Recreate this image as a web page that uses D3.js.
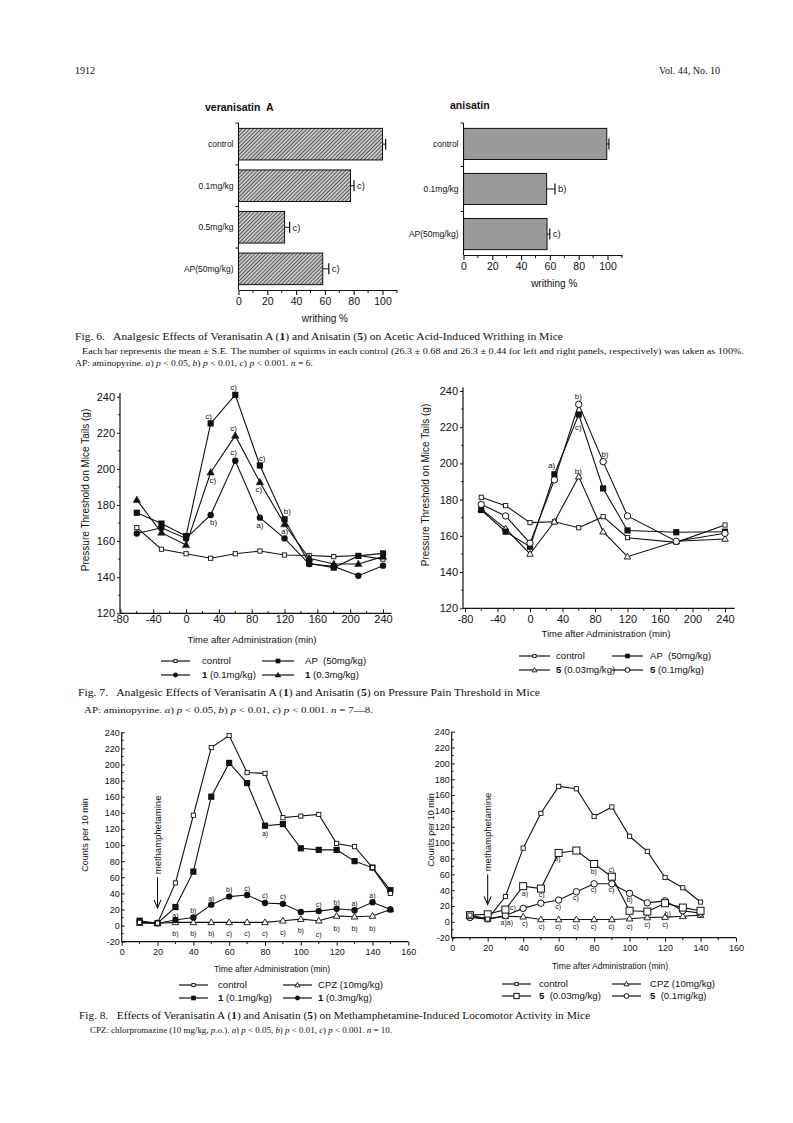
<!DOCTYPE html>
<html><head><meta charset="utf-8">
<script src="https://cdn.jsdelivr.net/npm/d3@7"></script>
<style>body{margin:0;background:#fff} svg{display:block} text{white-space:pre}</style>
</head><body><svg id="page" width="793" height="1123"></svg>
<script>
// ================= DATA =================
const fig6LeftCategories = ["control", "0.1mg/kg", "0.5mg/kg", "AP(50mg/kg)"];
const fig6LeftValues = [100, 77.8, 32, 58.5];
const fig6LeftErrors = [2.2, 2.4, 3.5, 4.2];
const fig6LeftSig = ["", "c)", "c)", "c)"];
const fig6RightCategories = ["control", "0.1mg/kg", "AP(50mg/kg)"];
const fig6RightValues = [99.5, 57.7, 58];
const fig6RightErrors = [1.5, 5.8, 1.9];
const fig6RightSig = ["", "b)", "c)"];
const writhingTicks = [0, 20, 40, 60, 80, 100];

const fig7TimeLeft = [-60, -30, 0, 30, 60, 90, 120, 150, 180, 210, 240];
const fig7LeftControl = [167.5, 155.5, 153, 150.5, 153, 154.5, 152.3, 152, 151.4, 152, 150];
const fig7LeftAP = [175.7, 169.7, 162.8, 225.2, 241, 201.9, 172.1, 147.7, 145.3, 151.8, 153.2];
const fig7Left1Low = [164.2, 167.4, 161.5, 174.5, 204.5, 173, 161.5, 147.3, 146, 140.8, 146.4];
const fig7Left1High = [182.8, 164.7, 157.8, 198, 218.4, 192.6, 169.3, 150.5, 147.3, 147.3, 151.4];
const fig7TimeRight = [-60, -30, 0, 30, 60, 90, 120, 180, 240];
const fig7RightControl = [181.3, 176.7, 167.3, 167.8, 164.5, 170.6, 159, 156.4, 166];
const fig7RightAP = [174.3, 162.3, 154, 194, 227, 186.2, 163, 162, 162.3];
const fig7Right5Low = [174.8, 164, 150, 167.8, 192.7, 162.3, 148.5, 157, 158.3];
const fig7Right5High = [177.4, 171, 156, 190.9, 232.6, 201, 171, 157, 161.4];
const fig7TimeTicks = [-80, -40, 0, 40, 80, 120, 160, 200, 240];
const fig7ThresholdTicks = [120, 140, 160, 180, 200, 220, 240];
const fig7LeftSig = [[58, 245.4, "c)"], [27.4, 229.2, "c)"], [58, 222.4, "c)"], [58, 209, "c)"], [32.7, 194, "c)"],
  [33.5, 170.7, "b)"], [92.8, 206.2, "c)"], [88.7, 189, "c)"], [90, 168.8, "a)"], [123.5, 176.3, "b)"], [120, 165.6, "a)"]];
const fig7RightSig = [[59.5, 236.9, "b)"], [59.5, 219.8, "c)"], [26.7, 199.1, "a)"], [59.5, 195.8, "b)"], [92.3, 205, "b)"]];

const fig8TimeLeft = [10, 20, 30, 40, 50, 60, 70, 80, 90, 100, 110, 120, 130, 140, 150];
const fig8LeftControl = [4, 3, 53, 137, 221, 236, 190, 189, 134, 136, 138, 102, 98, 72, 40];
const fig8Left1Low = [6, 3, 23, 67, 160, 202, 177, 124, 126, 96, 94, 94, 80, 72, 44];
const fig8Left1High = [5, 3, 7, 10, 26, 36, 38, 28, 27, 17, 18, 21, 19, 29, 20];
const fig8LeftCPZ = [3, 3, 4, 4, 4, 4, 4, 4, 6, 8, 6, 12, 11, 12, 20];
const fig8TimeRight = [10, 20, 30, 40, 50, 60, 70, 80, 90, 100, 110, 120, 130, 140];
const fig8RightControl = [8.5, 3.5, 32, 93, 137, 171, 168, 133, 145, 108, 89, 56, 43, 25];
const fig8Right5Low = [8.5, 9.5, 15.5, 45, 42, 87, 90, 73, 57, 14, 13, 23.5, 18, 14];
const fig8Right5High = [5.5, 3.5, 8, 17, 23.5, 27.5, 38, 48, 48, 36, 24, 26.5, 14, 11];
const fig8RightCPZ = [7, 3.5, 7, 6.5, 3, 3, 3, 3, 3, 4, 5.5, 6, 7, 8.5];
const fig8TimeTicks = [0, 20, 40, 60, 80, 100, 120, 140, 160];
const fig8CountTicks = [-20, 0, 20, 40, 60, 80, 100, 120, 140, 160, 180, 200, 220, 240];
const fig8LeftSig = [[80, 114.7, "a)"],
  [30, 12.4, "a)"], [40, 18.2, "b)"], [50, 34, "a)"], [60, 44.7, "b)"], [70, 46.4, "c)"], [80, 37.3, "c)"], [90, 36, "c)"],
  [110, 25.7, "c)"], [120, 29, "b)"], [130, 27.7, "a)"], [140, 37.3, "a)"],
  [30, -10.4, "b)"], [40, -10.4, "b)"], [50, -10.4, "b)"], [60, -10.4, "c)"], [70, -10.4, "c)"], [80, -10.4, "c)"],
  [90, -8.3, "c)"], [100, -6.6, "b)"], [110, -11.6, "c)"], [120, -4.1, "b)"], [130, -4.1, "b)"], [140, -4.1, "b)"]];
const fig8RightSig = [[59.3, 80, "a)"], [79.8, 63.8, "b)"], [89.7, 66, "c)"], [34.2, 17.9, "c)"], [41, 36.2, "a)"],
  [50.5, 34, "c)"], [59.8, 19.1, "c)"], [69.7, 30.6, "c)"], [79.8, 40.4, "c)"], [89.7, 40.4, "c)"], [100, 27.7, "b)"],
  [121.5, 10.6, "b)"], [30.8, -1.5, "a)a)"], [41, -2.5, "c)"], [50.5, -6.4, "c)"], [59.8, -6.4, "c)"], [69.7, -6.4, "c)"],
  [79.8, -5.5, "c)"], [89.7, -5.5, "c)"], [100, -5.5, "c)"], [110, -3.8, "c)"], [120, -3.8, "c)"]];
const methamphetamineArrow = [20, 60, 22]; // time, arrow start value, arrow end value

// ================= DRAWING =================
const svg = d3.select('#page');
const SANS = "'Liberation Sans', Arial, Helvetica, sans-serif";
const SERIF = "'Liberation Serif', 'Times New Roman', serif";
const fmt = d => String(d);

const defs = svg.append('defs');
const hatch = defs.append('pattern').attr('id', 'hatch').attr('patternUnits', 'userSpaceOnUse')
  .attr('width', 2.7).attr('height', 2.7).attr('patternTransform', 'rotate(45)');
hatch.append('rect').attr('width', 2.7).attr('height', 2.7).attr('fill', '#c8c8c8');
hatch.append('line').attr('x1', 0).attr('y1', 0).attr('x2', 0).attr('y2', 2.7).attr('stroke', '#262626').attr('stroke-width', 1.3);

function rich(x, y, parts, size, family, width, anchor) {
  const t = svg.append('text').attr('x', x).attr('y', y).attr('font-family', family)
    .attr('font-size', size).attr('fill', '#111').attr('text-anchor', anchor || 'start');
  parts.forEach(p => {
    const s = t.append('tspan').text(p[0]);
    if (p[1] === 'b') s.attr('font-weight', 'bold');
    if (p[1] === 'i') s.attr('font-style', 'italic');
  });
  if (width) t.attr('textLength', width).attr('lengthAdjust', 'spacingAndGlyphs');
  return t;
}

// header
rich(75, 74, [["1912"]], 10, SERIF);
rich(720, 74, [["Vol. 44, No. 10"]], 10, SERIF, null, 'end');

// ---------- Fig 6 bar charts ----------
function barChart(cfg) {
  const g = svg.append('g');
  const x = d3.scaleLinear().domain([0, 110]).range([cfg.x0, cfg.x0 + 110 * 1.44]);
  const y = d3.scaleBand().domain(cfg.cats).range([cfg.yTop, cfg.yBot])
    .paddingInner(cfg.pi).paddingOuter(cfg.po);
  g.selectAll('rect.bar').data(cfg.cats).join('rect').attr('class', 'bar')
    .attr('x', x(0)).attr('y', d => y(d)).attr('height', y.bandwidth())
    .attr('width', (d, i) => x(cfg.vals[i]) - x(0))
    .attr('fill', cfg.fill).attr('stroke', '#111').attr('stroke-width', 1);
  cfg.cats.forEach((c, i) => {
    const cy = y(c) + y.bandwidth() / 2;
    const xe = x(cfg.vals[i] + cfg.errs[i]);
    g.append('line').attr('x1', x(cfg.vals[i])).attr('x2', xe).attr('y1', cy).attr('y2', cy).attr('stroke', '#111');
    g.append('line').attr('x1', xe).attr('x2', xe).attr('y1', cy - 5.5).attr('y2', cy + 5.5).attr('stroke', '#111').attr('stroke-width', 1.2);
    if (cfg.sig[i]) g.append('text').attr('x', xe + 3).attr('y', cy + 3.3).text(cfg.sig[i])
      .attr('font-family', SANS).attr('font-size', 9.5).attr('fill', '#111');
    g.append('text').attr('x', cfg.x0 - 5).attr('y', cy + 3).attr('text-anchor', 'end').text(c)
      .attr('font-family', SANS).attr('font-size', 8.5).attr('fill', '#111');
  });
  const ax = g.append('g').attr('transform', `translate(0,${cfg.yBot})`)
    .call(d3.axisBottom(x).tickValues(writhingTicks).tickSize(5).tickSizeOuter(0).tickPadding(3).tickFormat(fmt));
  ax.selectAll('text').attr('font-family', SANS).attr('font-size', 10.5).attr('fill', '#111');
  ax.selectAll('line,path').attr('stroke', '#111').attr('stroke-width', 1.1);
  const minor = d3.range(10, 111, 20);
  g.selectAll('line.minor').data(minor).join('line').attr('class', 'minor')
    .attr('x1', d => x(d)).attr('x2', d => x(d)).attr('y1', cfg.yBot).attr('y2', cfg.yBot + 3).attr('stroke', '#111');
  g.append('line').attr('x1', cfg.x0).attr('x2', cfg.x0).attr('y1', cfg.yTop).attr('y2', cfg.yBot).attr('stroke', '#111').attr('stroke-width', 1.1);
  const bounds = cfg.cats.map(c => y(c) - y.step() * cfg.pi / 2).slice(1).concat([cfg.yTop]);
  g.selectAll('line.yt').data(bounds).join('line').attr('class', 'yt')
    .attr('x1', cfg.x0 - 3).attr('x2', cfg.x0).attr('y1', d => d).attr('y2', d => d).attr('stroke', '#111');
  g.append('text').attr('x', cfg.titleX).attr('y', cfg.titleY).text(cfg.title)
    .attr('font-family', SANS).attr('font-weight', 'bold').attr('font-size', 10.5).attr('fill', '#111');
  g.append('text').attr('x', x(cfg.labelAt)).attr('y', cfg.yBot + 32).attr('text-anchor', 'middle').text('writhing %')
    .attr('font-family', SANS).attr('font-size', 10).attr('fill', '#111');
}
barChart({cats: fig6LeftCategories, vals: fig6LeftValues, errs: fig6LeftErrors, sig: fig6LeftSig,
  x0: 238.5, yTop: 123, yBot: 290, pi: 0.24, po: 0.13, fill: 'url(#hatch)',
  title: 'veranisatin  A', titleX: 205, titleY: 111, labelAt: 60});
barChart({cats: fig6RightCategories, vals: fig6RightValues, errs: fig6RightErrors, sig: fig6RightSig,
  x0: 463.5, yTop: 123, yBot: 255, pi: 0.31, po: 0.12, fill: '#9a9a9a',
  title: 'anisatin', titleX: 450, titleY: 109, labelAt: 63});

rich(75, 340, [["Fig. 6.   Analgesic Effects of Veranisatin A ("], ["1", 'b'], [") and Anisatin ("], ["5", 'b'],
  [") on Acetic Acid-Induced Writhing in Mice"]], 11, SERIF, 488);
rich(82, 354, [["Each bar represents the mean \u00b1 S.E. The number of squirms in each control (26.3 \u00b1 0.68 and 26.3 \u00b1 0.44 for left and right panels, respectively) was taken as 100%."]], 8.5, SERIF, 662);
rich(75, 366, [["AP: aminopyrine. "], ["a", 'i'], [") "], ["p", 'i'], [" < 0.05, "], ["b", 'i'], [") "], ["p", 'i'], [" < 0.01, "],
  ["c", 'i'], [") "], ["p", 'i'], [" < 0.001. "], ["n", 'i'], [" = 6."]], 8.5, SERIF, 238);

// ---------- line charts ----------
function marker(g, type, cx, cy, k) {
  k = k || 1;
  if (type === 'ctrl') g.append('rect').attr('x', cx - 2.1 * k).attr('y', cy - 2.1 * k).attr('width', 4.2 * k).attr('height', 4.2 * k)
    .attr('fill', '#fff').attr('stroke', '#111').attr('stroke-width', 0.9);
  else if (type === 'fsq') g.append('rect').attr('x', cx - 3.1 * k).attr('y', cy - 3.1 * k).attr('width', 6.2 * k).attr('height', 6.2 * k).attr('fill', '#111');
  else if (type === 'osq') g.append('rect').attr('x', cx - 3.5 * k).attr('y', cy - 3.5 * k).attr('width', 7 * k).attr('height', 7 * k)
    .attr('fill', '#fff').attr('stroke', '#111').attr('stroke-width', 1);
  else if (type === 'fci') g.append('circle').attr('cx', cx).attr('cy', cy).attr('r', 3.2 * k).attr('fill', '#111');
  else if (type === 'oci') g.append('circle').attr('cx', cx).attr('cy', cy).attr('r', 3.2 * k).attr('fill', '#fff').attr('stroke', '#111').attr('stroke-width', 1);
  else if (type === 'ftri' || type === 'otri') g.append('path')
    .attr('d', d3.symbol().type(d3.symbolTriangle).size((type === 'ftri' ? 24 : 19) * k * k)())
    .attr('transform', `translate(${cx},${cy + 0.4})`)
    .attr('fill', type === 'ftri' ? '#111' : '#fff').attr('stroke', '#111').attr('stroke-width', type === 'ftri' ? 0.5 : 0.9);
}

function lineChart(cfg) {
  const g = svg.append('g');
  const x = d3.scaleLinear().domain(cfg.xDomain).range([cfg.x0, cfg.x1]);
  const y = d3.scaleLinear().domain(cfg.yDomain).range([cfg.yB, cfg.yT]);
  const xAxisY = y(cfg.yDomain[0]);
  const yAxisX = cfg.yAxisX;
  const ax = g.append('g').attr('transform', `translate(0,${xAxisY})`)
    .call(d3.axisBottom(x).tickValues(cfg.xTicks).tickSize(cfg.xTickSize).tickPadding(cfg.xPad).tickFormat(fmt));
  ax.select('.domain').remove();
  ax.selectAll('text').attr('font-family', SANS).attr('font-size', cfg.tickFont).attr('fill', '#111');
  ax.selectAll('line').attr('stroke', '#111');
  g.append('line').attr('x1', yAxisX).attr('x2', x(cfg.xEnd)).attr('y1', xAxisY).attr('y2', xAxisY).attr('stroke', '#111').attr('stroke-width', 1.2);
  g.selectAll('line.xm').data(cfg.xMinor).join('line').attr('class', 'xm')
    .attr('x1', d => x(d)).attr('x2', d => x(d)).attr('y1', xAxisY).attr('y2', xAxisY + cfg.xTickSize * 0.6).attr('stroke', '#111');
  const ay = g.append('g').attr('transform', `translate(${yAxisX},0)`)
    .call(d3.axisLeft(y).tickValues(cfg.yTicks).tickSize(cfg.yTickSize).tickPadding(cfg.yPad).tickFormat(fmt));
  ay.select('.domain').remove();
  ay.selectAll('text').attr('font-family', SANS).attr('font-size', cfg.tickFont).attr('fill', '#111');
  ay.selectAll('line').attr('stroke', '#111');
  g.append('line').attr('x1', yAxisX).attr('x2', yAxisX).attr('y1', xAxisY).attr('y2', y(cfg.yEnd)).attr('stroke', '#111').attr('stroke-width', 1.2);
  g.selectAll('line.ym').data(cfg.yMinor).join('line').attr('class', 'ym')
    .attr('x1', yAxisX).attr('x2', yAxisX - cfg.yTickSize * 0.6).attr('y1', d => y(d)).attr('y2', d => y(d)).attr('stroke', '#111');
  const line = d3.line().x(d => x(d[0])).y(d => y(d[1]));
  cfg.series.forEach(s => {
    const pts = s.times.map((t, i) => [t, s.values[i]]);
    g.append('path').attr('d', line(pts)).attr('fill', 'none').attr('stroke', '#111').attr('stroke-width', 1.1);
  });
  cfg.series.forEach(s => s.times.forEach((t, i) => marker(g, s.marker, x(t), y(s.values[i]))));
  g.selectAll('text.sig').data(cfg.sig).join('text').attr('class', 'sig')
    .attr('x', d => x(d[0])).attr('y', d => y(d[1])).attr('dy', '0.35em').attr('text-anchor', 'middle').text(d => d[2])
    .attr('font-family', SANS).attr('font-size', cfg.sigFont).attr('fill', '#111');
  g.append('text').attr('transform', `translate(${cfg.yTitleX},${cfg.yTitleY}) rotate(-90)`).attr('text-anchor', 'middle')
    .attr('dy', '0.35em').text(cfg.yTitle).attr('font-family', SANS).attr('font-size', cfg.titleFont).attr('fill', '#111');
  g.append('text').attr('x', cfg.xTitleX).attr('y', cfg.xTitleY).attr('dy', '0.35em').attr('text-anchor', 'middle')
    .text('Time after Administration (min)').attr('font-family', SANS).attr('font-size', cfg.titleFont * 0.95).attr('fill', '#111');
  if (cfg.arrow) {
    const ax0 = x(cfg.arrow[0]);
    g.append('line').attr('x1', ax0).attr('x2', ax0).attr('y1', y(cfg.arrow[1])).attr('y2', y(cfg.arrow[2]))
      .attr('stroke', '#111').attr('stroke-width', 1.1);
    g.append('path').attr('d', `M${ax0 - 3.5},${y(cfg.arrow[2]) - 8} L${ax0},${y(cfg.arrow[2])} L${ax0 + 3.5},${y(cfg.arrow[2]) - 8}`)
      .attr('fill', 'none').attr('stroke', '#111').attr('stroke-width', 1.1);
    g.append('text').attr('transform', `translate(${ax0},${y(cfg.arrow[1]) - 3}) rotate(-90)`).attr('dy', '0.35em')
      .text('methamphetamine').attr('font-family', SANS).attr('font-size', 9.5).attr('fill', '#111');
  }
}

function legend(items, colLine, colText, rows, size) {
  items.forEach((it, k) => {
    const r = Math.floor(k / 2), c = k % 2;
    const yy = rows[r];
    svg.append('line').attr('x1', colLine[c][0]).attr('x2', colLine[c][1]).attr('y1', yy).attr('y2', yy).attr('stroke', '#111').attr('stroke-width', 1.2);
    marker(svg, it.marker, (colLine[c][0] + colLine[c][1]) / 2, yy, 0.75);
    const parts = it.num ? [[it.num, 'b'], [it.text]] : [[it.text]];
    rich(colText[c], yy + size * 0.36, parts, size, SANS);
  });
}

const fig7Common = {xDomain: [-80, 240], yDomain: [120, 240], xTicks: fig7TimeTicks, yTicks: fig7ThresholdTicks,
  xMinor: d3.range(-60, 241, 40), yMinor: d3.range(130, 240, 20), tickFont: 11, sigFont: 8, titleFont: 10,
  yTitle: 'Pressure Threshold on Mice Tails (g)', yEnd: 242};
lineChart(Object.assign({}, fig7Common, {x0: 120.4, x1: 383, yB: 613.3, yT: 396.7, yAxisX: 120, xEnd: 250.5,
  xTickSize: -4, xPad: 2, yTickSize: 3, yPad: 2, yTitleX: 85, yTitleY: 490, xTitleX: 252, xTitleY: 640,
  series: [
    {times: fig7TimeLeft, values: fig7LeftControl, marker: 'ctrl'},
    {times: fig7TimeLeft, values: fig7Left1High, marker: 'ftri'},
    {times: fig7TimeLeft, values: fig7Left1Low, marker: 'fci'},
    {times: fig7TimeLeft, values: fig7LeftAP, marker: 'fsq'}],
  sig: fig7LeftSig}));
lineChart(Object.assign({}, fig7Common, {x0: 465, x1: 725, yB: 608.3, yT: 391, yAxisX: 463, xEnd: 252,
  xTickSize: 4, xPad: 3, yTickSize: 3, yPad: 2, yTitleX: 425, yTitleY: 485, xTitleX: 606, xTitleY: 634,
  series: [
    {times: fig7TimeRight, values: fig7RightControl, marker: 'ctrl'},
    {times: fig7TimeRight, values: fig7Right5Low, marker: 'otri'},
    {times: fig7TimeRight, values: fig7RightAP, marker: 'fsq'},
    {times: fig7TimeRight, values: fig7Right5High, marker: 'oci'}],
  sig: fig7RightSig}));

legend([{text: 'control', marker: 'ctrl'}, {text: 'AP  (50mg/kg)', marker: 'fsq'},
  {num: '1', text: ' (0.1mg/kg)', marker: 'fci'}, {num: '1', text: ' (0.3mg/kg)', marker: 'ftri'}],
  [[161, 190], [262, 294]], [202, 305], [661, 675], 9.6);
legend([{text: 'control', marker: 'ctrl'}, {text: 'AP  (50mg/kg)', marker: 'fsq'},
  {num: '5', text: ' (0.03mg/kg)', marker: 'otri'}, {num: '5', text: ' (0.1mg/kg)', marker: 'oci'}],
  [[519, 550], [612, 643]], [556, 650], [656, 670], 9.6);

rich(78, 696, [["Fig. 7.   Analgesic Effects of Veranisatin A ("], ["1", 'b'], [") and Anisatin ("], ["5", 'b'],
  [") on Pressure Pain Threshold in Mice"]], 11, SERIF, 462);
rich(84, 713, [["AP: aminopyrine. "], ["a", 'i'], [") "], ["p", 'i'], [" < 0.05, "], ["b", 'i'], [") "], ["p", 'i'], [" < 0.01, "],
  ["c", 'i'], [") "], ["p", 'i'], [" < 0.001. "], ["n", 'i'], [" = 7\u20148."]], 8.5, SERIF, 289);

const fig8Common = {xDomain: [0, 160], yDomain: [-20, 240], xTicks: fig8TimeTicks, yTicks: fig8CountTicks,
  xMinor: d3.range(10, 160, 20), yMinor: d3.range(-10, 240, 20), tickFont: 9, sigFont: 7, titleFont: 9,
  yTitle: 'Counts per 10 min', yEnd: 240, xEnd: 160, xTickSize: 4, xPad: 3, yTickSize: -3, yPad: 2};
lineChart(Object.assign({}, fig8Common, {x0: 121.7, x1: 408.3, yB: 941.7, yT: 732.3, yAxisX: 121.7,
  yTitleX: 85, yTitleY: 835, xTitleX: 272, xTitleY: 969, arrow: methamphetamineArrow,
  series: [
    {times: fig8TimeLeft, values: fig8LeftCPZ, marker: 'otri'},
    {times: fig8TimeLeft, values: fig8Left1High, marker: 'fci'},
    {times: fig8TimeLeft, values: fig8Left1Low, marker: 'fsq'},
    {times: fig8TimeLeft, values: fig8LeftControl, marker: 'ctrl'}],
  sig: fig8LeftSig}));
lineChart(Object.assign({}, fig8Common, {x0: 452.2, x1: 736, yB: 937.7, yT: 731.7, yAxisX: 451.7,
  yTitleX: 431, yTitleY: 830, xTitleX: 610, xTitleY: 966, arrow: methamphetamineArrow,
  series: [
    {times: fig8TimeRight, values: fig8RightCPZ, marker: 'otri'},
    {times: fig8TimeRight, values: fig8Right5High, marker: 'oci'},
    {times: fig8TimeRight, values: fig8Right5Low, marker: 'osq'},
    {times: fig8TimeRight, values: fig8RightControl, marker: 'ctrl'}],
  sig: fig8RightSig}));

legend([{text: 'control', marker: 'ctrl'}, {text: 'CPZ (10mg/kg)', marker: 'otri'},
  {num: '1', text: ' (0.1mg/kg)', marker: 'fsq'}, {num: '1', text: ' (0.3mg/kg)', marker: 'fci'}],
  [[179, 208], [283, 312]], [218, 318], [985, 998], 9.6);
legend([{text: 'control', marker: 'ctrl'}, {text: 'CPZ (10mg/kg)', marker: 'otri'},
  {num: '5', text: '  (0.03mg/kg)', marker: 'osq'}, {num: '5', text: '  (0.1mg/kg)', marker: 'oci'}],
  [[502, 531], [612, 641]], [539, 650], [984, 996], 9.6);

rich(79, 1019, [["Fig. 8.   Effects of Veranisatin A ("], ["1", 'b'], [") and Anisatin ("], ["5", 'b'],
  [") on Methamphetamine-Induced Locomotor Activity in Mice"]], 11, SERIF, 511);
rich(90, 1033, [["CPZ: chlorpromazine (10 mg/kg, "], ["p.o.", 'i'], ["). "], ["a", 'i'], [") "], ["p", 'i'], [" < 0.05, "],
  ["b", 'i'], [") "], ["p", 'i'], [" < 0.01, "], ["c", 'i'], [") "], ["p", 'i'], [" < 0.001. "], ["n", 'i'], [" = 10."]], 8.5, SERIF, 302);
</script></body></html>
